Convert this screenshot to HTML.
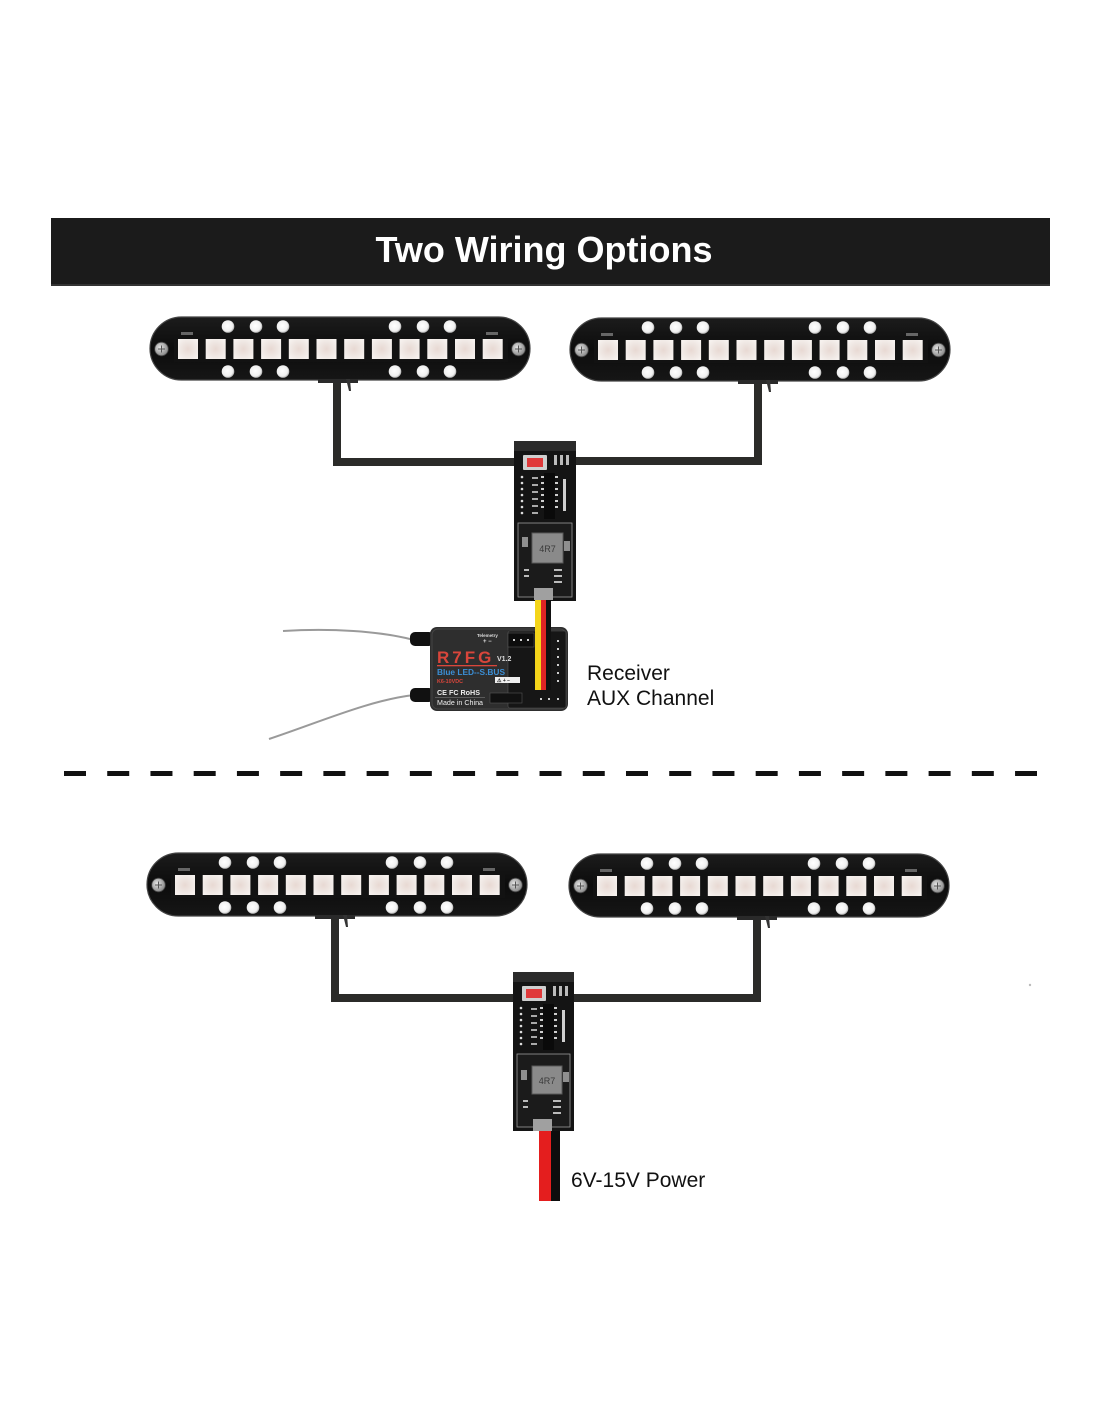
<!DOCTYPE html>
<html>
<head>
<meta charset="utf-8">
<style>
html,body{margin:0;padding:0;background:#fff;}
body{width:1100px;height:1422px;overflow:hidden;}
svg{display:block;}
text{font-family:"Liberation Sans",Arial,sans-serif;}
</style>
</head>
<body>
<svg width="1100" height="1422" viewBox="0 0 1100 1422" xmlns="http://www.w3.org/2000/svg">
<defs>
  <linearGradient id="barg" x1="0" y1="0" x2="0" y2="1">
    <stop offset="0" stop-color="#1c1c1c"/>
    <stop offset="0.5" stop-color="#0c0c0c"/>
    <stop offset="1" stop-color="#161616"/>
  </linearGradient>
  <radialGradient id="ledg" cx="0.5" cy="0.5" r="0.6">
    <stop offset="0" stop-color="#e8d9d3"/>
    <stop offset="0.6" stop-color="#efe7e3"/>
    <stop offset="1" stop-color="#f6f1ee"/>
  </radialGradient>
  <radialGradient id="holeg" cx="0.45" cy="0.45" r="0.6">
    <stop offset="0" stop-color="#ffffff"/>
    <stop offset="0.7" stop-color="#f0f0f0"/>
    <stop offset="1" stop-color="#9a9a9a"/>
  </radialGradient>
  <radialGradient id="screwg" cx="0.4" cy="0.4" r="0.7">
    <stop offset="0" stop-color="#e6e6e6"/>
    <stop offset="1" stop-color="#7a7a7a"/>
  </radialGradient>
  <g id="bar">
    <rect x="0" y="0" width="380" height="63" rx="31.5" fill="url(#barg)" stroke="#444" stroke-width="1.2"/>
    <rect x="24" y="19" width="334" height="26" fill="#121212"/>
    <circle cx="78" cy="9.5" r="6.3" fill="url(#holeg)"/>
    <circle cx="106" cy="9.5" r="6.3" fill="url(#holeg)"/>
    <circle cx="133" cy="9.5" r="6.3" fill="url(#holeg)"/>
    <circle cx="245" cy="9.5" r="6.3" fill="url(#holeg)"/>
    <circle cx="273" cy="9.5" r="6.3" fill="url(#holeg)"/>
    <circle cx="300" cy="9.5" r="6.3" fill="url(#holeg)"/>
    <circle cx="78" cy="54.5" r="6.3" fill="url(#holeg)"/>
    <circle cx="106" cy="54.5" r="6.3" fill="url(#holeg)"/>
    <circle cx="133" cy="54.5" r="6.3" fill="url(#holeg)"/>
    <circle cx="245" cy="54.5" r="6.3" fill="url(#holeg)"/>
    <circle cx="273" cy="54.5" r="6.3" fill="url(#holeg)"/>
    <circle cx="300" cy="54.5" r="6.3" fill="url(#holeg)"/>
    <rect x="28" y="22" width="20" height="20" fill="url(#ledg)"/>
    <rect x="55.7" y="22" width="20" height="20" fill="url(#ledg)"/>
    <rect x="83.4" y="22" width="20" height="20" fill="url(#ledg)"/>
    <rect x="111.1" y="22" width="20" height="20" fill="url(#ledg)"/>
    <rect x="138.8" y="22" width="20" height="20" fill="url(#ledg)"/>
    <rect x="166.5" y="22" width="20" height="20" fill="url(#ledg)"/>
    <rect x="194.2" y="22" width="20" height="20" fill="url(#ledg)"/>
    <rect x="221.9" y="22" width="20" height="20" fill="url(#ledg)"/>
    <rect x="249.6" y="22" width="20" height="20" fill="url(#ledg)"/>
    <rect x="277.3" y="22" width="20" height="20" fill="url(#ledg)"/>
    <rect x="305" y="22" width="20" height="20" fill="url(#ledg)"/>
    <rect x="332.7" y="22" width="20" height="20" fill="url(#ledg)"/>
    <rect x="31" y="15" width="12" height="3" fill="#666"/>
    <rect x="336" y="15" width="12" height="3" fill="#666"/>
    <circle cx="11.5" cy="32" r="6.8" fill="url(#screwg)" stroke="#444" stroke-width="0.8"/>
    <path d="M8 32 H15 M11.5 28.5 V35.5" stroke="#555" stroke-width="1"/>
    <circle cx="368.5" cy="32" r="6.8" fill="url(#screwg)" stroke="#444" stroke-width="0.8"/>
    <path d="M365 32 H372 M368.5 28.5 V35.5" stroke="#555" stroke-width="1"/>
    <rect x="168" y="62" width="40" height="4" fill="#2a2a2a"/>
    <path d="M196 62 L199 74 L201 74 L200 62 Z" fill="#333"/>
  </g>
</defs>

<!-- Title banner -->
<rect x="51" y="218" width="999" height="68" fill="#1b1b1b"/>
<rect x="51" y="284" width="999" height="2" fill="#333"/>
<text x="544" y="262" font-size="36" font-weight="bold" fill="#ffffff" text-anchor="middle">Two Wiring Options</text>

<!-- ========== TOP SECTION ========== -->
<path d="M337 383 V462 H518" fill="none" stroke="#2b2b29" stroke-width="8"/>
<path d="M573 461 H758 V383" fill="none" stroke="#2b2b29" stroke-width="8"/>

<use href="#bar" x="150" y="317"/>
<use href="#bar" x="570" y="318"/>

<!-- module 1 -->
<g transform="translate(514,441)">
  <rect x="0" y="0" width="62" height="160" fill="#141414"/>
  <rect x="0" y="0" width="62" height="10" fill="#3a3a3a" opacity="0.6"/>
  <rect x="9" y="14" width="24" height="15" fill="#cfcfcf" rx="1"/>
  <rect x="13" y="17" width="16" height="9" fill="#e0393a"/>
  <rect x="40" y="14" width="3" height="10" fill="#bbb"/>
  <rect x="46" y="14" width="3" height="10" fill="#bbb"/>
  <rect x="52" y="14" width="3" height="10" fill="#bbb"/>
  <g fill="#ddd">
    <circle cx="8" cy="36" r="1.3"/><circle cx="8" cy="42" r="1.3"/><circle cx="8" cy="48" r="1.3"/>
    <circle cx="8" cy="54" r="1.3"/><circle cx="8" cy="60" r="1.3"/><circle cx="8" cy="66" r="1.3"/>
    <circle cx="8" cy="72" r="1.3"/>
  </g>
  <g fill="#aaa">
    <rect x="18" y="36" width="6" height="2"/><rect x="18" y="43" width="6" height="2"/>
    <rect x="18" y="50" width="6" height="2"/><rect x="18" y="57" width="6" height="2"/>
    <rect x="18" y="64" width="6" height="2"/><rect x="18" y="71" width="6" height="2"/>
  </g>
  <rect x="30" y="32" width="11" height="46" fill="#0a0a0a"/>
  <g fill="#cfcfcf">
    <rect x="27" y="35" width="3" height="2"/><rect x="27" y="41" width="3" height="2"/>
    <rect x="27" y="47" width="3" height="2"/><rect x="27" y="53" width="3" height="2"/>
    <rect x="27" y="59" width="3" height="2"/><rect x="27" y="65" width="3" height="2"/>
    <rect x="41" y="35" width="3" height="2"/><rect x="41" y="41" width="3" height="2"/>
    <rect x="41" y="47" width="3" height="2"/><rect x="41" y="53" width="3" height="2"/>
    <rect x="41" y="59" width="3" height="2"/><rect x="41" y="65" width="3" height="2"/>
    <rect x="49" y="38" width="3" height="32"/>
  </g>
  <rect x="4" y="82" width="54" height="74" fill="#1b1b1b" stroke="#9a9a9a" stroke-width="0.8"/>
  <rect x="18" y="92" width="31" height="30" fill="#8a8a8a" stroke="#5a5a5a" stroke-width="1"/>
  <text x="33.5" y="111" font-size="9" fill="#3a3a3a" text-anchor="middle">4R7</text>
  <rect x="8" y="96" width="6" height="10" fill="#ddd" opacity="0.6"/>
  <rect x="50" y="100" width="6" height="10" fill="#ddd" opacity="0.6"/>
  <g fill="#bbb">
    <rect x="10" y="128" width="5" height="2"/><rect x="10" y="134" width="5" height="2"/>
    <rect x="40" y="128" width="8" height="2"/><rect x="40" y="134" width="8" height="2"/><rect x="40" y="140" width="8" height="2"/>
  </g>
  <rect x="20" y="147" width="19" height="12" fill="#a0a0a0"/>
</g>

<!-- receiver antennas -->
<path d="M283 631 C330 628 380 631 414 640" fill="none" stroke="#9a9a9a" stroke-width="2"/>
<path d="M269 739 C320 722 370 700 414 695" fill="none" stroke="#9a9a9a" stroke-width="2"/>
<!-- receiver -->
<rect x="410" y="632" width="24" height="14" rx="5" fill="#111"/>
<rect x="410" y="688" width="24" height="14" rx="5" fill="#111"/>
<rect x="430" y="627" width="138" height="84" rx="7" fill="#2e2e2e"/>
<rect x="432" y="629" width="134" height="80" rx="6" fill="none" stroke="#444" stroke-width="1"/>
<rect x="508" y="631" width="58" height="77" rx="2" fill="#161616" stroke="#555" stroke-width="0.6"/>
<rect x="508" y="633" width="26" height="14" fill="#0d0d0d" stroke="#555" stroke-width="0.6"/>
<g fill="#cfcfcf">
  <rect x="513" y="639" width="2" height="2"/><rect x="520" y="639" width="2" height="2"/><rect x="527" y="639" width="2" height="2"/>
  <rect x="557" y="640" width="2" height="2"/><rect x="557" y="648" width="2" height="2"/><rect x="557" y="656" width="2" height="2"/>
  <rect x="557" y="664" width="2" height="2"/><rect x="557" y="672" width="2" height="2"/><rect x="557" y="680" width="2" height="2"/>
  <rect x="557" y="698" width="2" height="2"/><rect x="548" y="698" width="2" height="2"/><rect x="540" y="698" width="2" height="2"/>
</g>
<rect x="490" y="693" width="32" height="10" fill="#111" stroke="#555" stroke-width="0.6"/>
<text x="477" y="637" font-size="4.5" font-weight="bold" fill="#ddd">Telemetry</text>
<text x="483" y="643" font-size="6" font-weight="bold" fill="#ddd">+ −</text>
<text x="437" y="663" font-size="17" font-weight="bold" fill="#d9463b" letter-spacing="3">R7FG</text>
<rect x="437" y="665" width="60" height="1.3" fill="#d9463b"/>
<text x="497" y="661" font-size="7" font-weight="bold" fill="#ddd">V1.2</text>
<text x="437" y="675" font-size="8" font-weight="bold" fill="#3b8fd6" textLength="68" lengthAdjust="spacingAndGlyphs">Blue LED--S.BUS</text>
<text x="437" y="683" font-size="5.5" font-weight="bold" fill="#d9463b" textLength="26" lengthAdjust="spacingAndGlyphs">K6-10VDC</text>
<rect x="495" y="677" width="25" height="6" fill="#eee"/>
<text x="497" y="682" font-size="5" font-weight="bold" fill="#222">⚠ + −</text>
<text x="437" y="695" font-size="7" font-weight="bold" fill="#eee" textLength="43" lengthAdjust="spacingAndGlyphs">CE FC RoHS</text>
<text x="437" y="705" font-size="7" fill="#eee" textLength="46" lengthAdjust="spacingAndGlyphs">Made in China</text>
<rect x="435" y="697" width="50" height="0.6" fill="#777"/>

<!-- signal wires (over receiver) -->
<rect x="535" y="600" width="6" height="90" fill="#f4d51a"/>
<rect x="541" y="600" width="5" height="90" fill="#e02424"/>
<rect x="546" y="600" width="5" height="90" fill="#111"/>

<text x="587" y="680" font-size="21" fill="#111">Receiver</text>
<text x="587" y="705" font-size="21" fill="#111">AUX Channel</text>

<!-- dashed separator -->
<line x1="64" y1="773.5" x2="1037" y2="773.5" stroke="#111" stroke-width="5" stroke-dasharray="22 21.23"/>

<!-- ========== BOTTOM SECTION ========== -->
<path d="M335 917 V998 H517" fill="none" stroke="#2b2b29" stroke-width="8"/>
<path d="M571 998 H757 V918" fill="none" stroke="#2b2b29" stroke-width="8"/>

<use href="#bar" x="147" y="853"/>
<use href="#bar" x="569" y="854"/>

<!-- module 2 -->
<g transform="translate(513,972)">
  <rect x="0" y="0" width="61" height="159" fill="#141414"/>
  <rect x="0" y="0" width="61" height="10" fill="#3a3a3a" opacity="0.6"/>
  <rect x="9" y="14" width="24" height="15" fill="#cfcfcf" rx="1"/>
  <rect x="13" y="17" width="16" height="9" fill="#e0393a"/>
  <rect x="40" y="14" width="3" height="10" fill="#bbb"/>
  <rect x="46" y="14" width="3" height="10" fill="#bbb"/>
  <rect x="52" y="14" width="3" height="10" fill="#bbb"/>
  <g fill="#ddd">
    <circle cx="8" cy="36" r="1.3"/><circle cx="8" cy="42" r="1.3"/><circle cx="8" cy="48" r="1.3"/>
    <circle cx="8" cy="54" r="1.3"/><circle cx="8" cy="60" r="1.3"/><circle cx="8" cy="66" r="1.3"/>
    <circle cx="8" cy="72" r="1.3"/>
  </g>
  <g fill="#aaa">
    <rect x="18" y="36" width="6" height="2"/><rect x="18" y="43" width="6" height="2"/>
    <rect x="18" y="50" width="6" height="2"/><rect x="18" y="57" width="6" height="2"/>
    <rect x="18" y="64" width="6" height="2"/><rect x="18" y="71" width="6" height="2"/>
  </g>
  <rect x="30" y="32" width="11" height="46" fill="#0a0a0a"/>
  <g fill="#cfcfcf">
    <rect x="27" y="35" width="3" height="2"/><rect x="27" y="41" width="3" height="2"/>
    <rect x="27" y="47" width="3" height="2"/><rect x="27" y="53" width="3" height="2"/>
    <rect x="27" y="59" width="3" height="2"/><rect x="27" y="65" width="3" height="2"/>
    <rect x="41" y="35" width="3" height="2"/><rect x="41" y="41" width="3" height="2"/>
    <rect x="41" y="47" width="3" height="2"/><rect x="41" y="53" width="3" height="2"/>
    <rect x="41" y="59" width="3" height="2"/><rect x="41" y="65" width="3" height="2"/>
    <rect x="49" y="38" width="3" height="32"/>
  </g>
  <rect x="4" y="82" width="53" height="73" fill="#1b1b1b" stroke="#9a9a9a" stroke-width="0.8"/>
  <rect x="19" y="94" width="30" height="28" fill="#8a8a8a" stroke="#5a5a5a" stroke-width="1"/>
  <text x="34" y="112" font-size="9" fill="#3a3a3a" text-anchor="middle">4R7</text>
  <rect x="8" y="98" width="6" height="10" fill="#ddd" opacity="0.6"/>
  <rect x="50" y="100" width="6" height="10" fill="#ddd" opacity="0.6"/>
  <g fill="#bbb">
    <rect x="10" y="128" width="5" height="2"/><rect x="10" y="134" width="5" height="2"/>
    <rect x="40" y="128" width="8" height="2"/><rect x="40" y="134" width="8" height="2"/><rect x="40" y="140" width="8" height="2"/>
  </g>
  <rect x="20" y="147" width="19" height="12" fill="#a0a0a0"/>
</g>
<!-- power wires -->
<rect x="539" y="1131" width="12" height="70" fill="#e41e1e"/>
<rect x="551" y="1131" width="9" height="70" fill="#0d0d0d"/>
<text x="571" y="1187" font-size="21" fill="#111">6V-15V Power</text>

<circle cx="1030" cy="985" r="1.2" fill="#bbb"/>
</svg>
</body>
</html>
